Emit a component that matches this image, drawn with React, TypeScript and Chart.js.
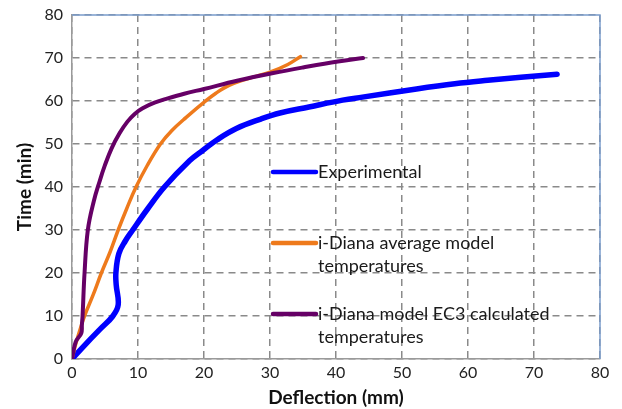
import { useEffect, useRef } from 'react';
import { Chart, registerables } from 'chart.js';

Chart.register(...registerables);

// Experimental: deflection (mm) vs time (min)
const expDeflection = [0, 2.4, 4.3, 6.2, 7.0, 6.7, 6.65, 7.1, 8.1, 9.2, 11.5, 14.0, 17.8, 19.8, 22.0, 24.9, 28.6, 31.5, 35.9, 41.0, 44.0, 52.2, 58.0, 63.0, 68.0, 73.5];
const expTime = [0, 4.0, 7.0, 10.0, 12.6, 17.2, 20.0, 24.5, 27.5, 30.0, 35.0, 40.0, 46.1, 48.5, 51.0, 53.6, 55.8, 57.2, 58.6, 60.2, 60.9, 62.8, 64.0, 64.8, 65.5, 66.2];

// i-Diana average model temperatures
const avgDeflection = [0, 0.66, 1.9, 3.2, 4.45, 5.8, 7.0, 8.3, 9.7, 11.4, 13.4, 15.1, 17.3, 20.4, 21.8, 23.0, 24.5, 26.2, 28.0, 30.0, 32.7, 34.6];
const avgTime = [0, 4.0, 10.0, 14.9, 20.0, 25.0, 30.0, 35.0, 40.0, 45.0, 50.0, 53.1, 56.2, 60.2, 61.8, 63.0, 64.1, 65.0, 65.8, 66.7, 68.5, 70.3];

// i-Diana model EC3 calculated temperatures
const ec3Deflection = [0, 0.56, 1.4, 1.5, 1.6, 1.9, 2.4, 3.3, 4.2, 4.95, 6.0, 7.2, 8.4, 9.5, 10.7, 12.5, 14.5, 17.0, 20.0, 25.0, 30.5, 35.0, 40.3, 44.1];
const ec3Time = [0, 4.0, 6.0, 8.0, 10.0, 20.0, 30.0, 36.7, 41.4, 44.9, 49.0, 52.5, 55.2, 57.0, 58.3, 59.6, 60.6, 61.7, 62.8, 64.7, 66.5, 67.8, 69.2, 70.0];

const seriesNames = ['Experimental', 'i-Diana average model temperatures', 'i-Diana model EC3 calculated temperatures'];
const legendLines = [['Experimental'], ['i-Diana average model', 'temperatures'], ['i-Diana model EC3 calculated', 'temperatures']];
const seriesColors = ['#0000FF', '#EE7A1C', '#660066'];

const xTickValues = [0, 10, 20, 30, 40, 50, 60, 70, 80];
const yTickValues = [0, 10, 20, 30, 40, 50, 60, 70, 80];

const FONT = 'Lato, "Open Sans", sans-serif';

function pts(xs: number[], ys: number[]) {
  return xs.map((x, i) => ({ x, y: ys[i] }));
}

export default function App() {
  const ref = useRef<HTMLCanvasElement | null>(null);

  useEffect(() => {
    document.body.style.margin = '0';
    const canvas = ref.current;
    if (!canvas) return;

    const frame = {
      id: 'frame',
      beforeDatasetsDraw(chart: any) {
        const { ctx, chartArea } = chart;
        ctx.save();
        ctx.strokeStyle = '#7A9CCB';
        ctx.lineWidth = 1.5;
        ctx.beginPath();
        ctx.moveTo(chartArea.left, chartArea.top);
        ctx.lineTo(chartArea.right, chartArea.top);
        ctx.lineTo(chartArea.right, chartArea.bottom);
        ctx.stroke();
        ctx.restore();
      },
      afterDraw(chart: any) {
        const { ctx } = chart;
        const x0 = 273;
        const x1 = 316;
        const rows = [172, 243, 314];
        ctx.save();
        ctx.font = `18px ${FONT}`;
        ctx.textBaseline = 'middle';
        ctx.textAlign = 'left';
        rows.forEach((y, i) => {
          ctx.strokeStyle = seriesColors[i];
          ctx.lineWidth = 4.5;
          ctx.lineCap = 'round';
          ctx.beginPath();
          ctx.moveTo(x0, y);
          ctx.lineTo(x1, y);
          ctx.stroke();
          ctx.fillStyle = '#1a1a1a';
          legendLines[i].forEach((t, j) => {
            ctx.fillText(t, 318, y + j * 23);
          });
        });
        ctx.restore();
      },
    };

    const chart = new Chart(canvas, {
      type: 'scatter',
      data: {
        datasets: [
          { label: seriesNames[2], data: pts(ec3Deflection, ec3Time), borderColor: seriesColors[2], borderWidth: 4, order: 1 },
          { label: seriesNames[1], data: pts(avgDeflection, avgTime), borderColor: seriesColors[1], borderWidth: 3.5, order: 2 },
          { label: seriesNames[0], data: pts(expDeflection, expTime), borderColor: seriesColors[0], borderWidth: 5.5, order: 3 },
        ].map((d) => ({ ...d, showLine: true, pointRadius: 0, tension: 0.4, fill: false, backgroundColor: d.borderColor, borderCapStyle: 'round' as const, borderJoinStyle: 'round' as const })),
      },
      options: {
        animation: false,
        responsive: false,
        devicePixelRatio: 1,
        layout: { padding: { top: 15, right: 22, left: 0, bottom: 0 } },
        plugins: { legend: { display: false }, tooltip: { enabled: false } },
        scales: {
          x: {
            type: 'linear',
            min: 0,
            max: 80,
            afterBuildTicks: (s: any) => { s.ticks = xTickValues.map((v) => ({ value: v })); },
            afterFit: (s: any) => { s.height = 50; s.paddingLeft = 0; s.paddingRight = 0; },
            ticks: { color: '#222', font: { family: FONT, size: 16 }, padding: 4, maxRotation: 0 },
            grid: { color: '#8a8a8a', lineWidth: 1.5, drawTicks: false },
            border: { display: true, color: '#9a9a9a', width: 1.5, dash: [7, 5] },
            title: { display: true, text: 'Deflection (mm)', color: '#111', font: { family: FONT, size: 19, weight: 'bold' }, padding: { top: 1, bottom: 0 } },
          },
          y: {
            type: 'linear',
            min: 0,
            max: 80,
            afterBuildTicks: (s: any) => { s.ticks = yTickValues.map((v) => ({ value: v })); },
            afterFit: (s: any) => { s.width = 72; s.paddingTop = 0; s.paddingBottom = 0; },
            ticks: { color: '#222', font: { family: FONT, size: 16 }, padding: 9 },
            grid: { color: '#8a8a8a', lineWidth: 1.5, drawTicks: false },
            border: { display: true, color: '#9a9a9a', width: 1.5, dash: [7, 5] },
            title: { display: true, text: 'Time (min)', color: '#111', font: { family: FONT, size: 19, weight: 'bold' }, padding: { top: 13, bottom: 0 } },
          },
        },
      },
      plugins: [frame],
    });

    return () => chart.destroy();
  }, []);

  return (
    <div style={{ width: 622, height: 409 }}>
      <canvas ref={ref} width={622} height={409} style={{ display: 'block', width: 622, height: 409 }} />
    </div>
  );
}
